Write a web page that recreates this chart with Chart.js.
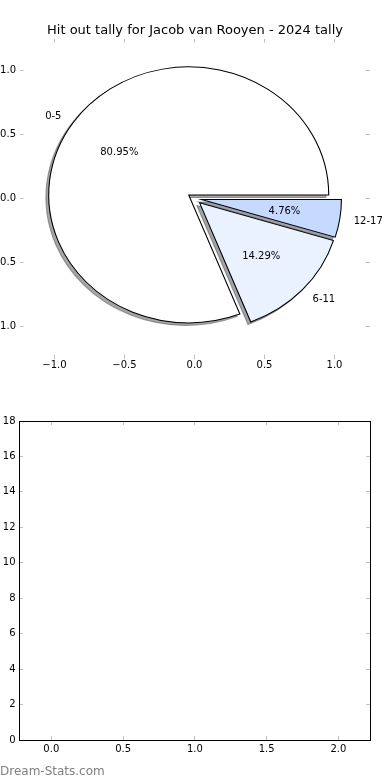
<!DOCTYPE html>
<html>
<head>
<meta charset="utf-8">
<script src="https://cdn.jsdelivr.net/npm/chart.js@4/dist/chart.umd.min.js"></script>
<style>
  html, body { margin: 0; padding: 0; background: #fff; width: 390px; height: 780px; overflow: hidden; }
  canvas { position: absolute; left: 0; }
  #pieCanvas { top: 0; }
  #lowerCanvas { top: 390px; }
  #wm { position: absolute; left: 0; top: 765px; font: 12px/12px "DejaVu Sans", sans-serif; color: #808080; white-space: nowrap; }
</style>
</head>
<body>
<canvas id="pieCanvas" width="390" height="390"></canvas>
<canvas id="lowerCanvas" width="390" height="390"></canvas>
<div id="wm">Dream-Stats.com</div>
<script>
// ---------- data ----------
const chartTitle = 'Hit out tally for Jacob van Rooyen - 2024 tally';
const categories = ['0-5', '6-11', '12-17'];
const hitOuts = [17, 3, 1];
const sliceColors = ['#ffffff', '#eaf1ff', '#c6d9ff'];
const explode = [0.05, 0.05, 0.05];

const pieXTicks = [-1, -0.5, 0, 0.5, 1];
const pieXTickLabels = ['\u22121.0', '\u22120.5', '0.0', '0.5', '1.0'];
const pieYTicks = [-1, -0.5, 0, 0.5, 1];
const pieYTickLabels = ['\u22121.0', '\u22120.5', '0.0', '0.5', '1.0'];

const lowerXTicks = [0, 0.5, 1, 1.5, 2];
const lowerXTickLabels = ['0.0', '0.5', '1.0', '1.5', '2.0'];
const lowerYTicks = [0, 2, 4, 6, 8, 10, 12, 14, 16, 18];
const lowerYTickLabels = ['0', '2', '4', '6', '8', '10', '12', '14', '16', '18'];
const lowerSeries = [];

// ---------- helpers ----------
const FONT = 'DejaVu Sans';
const TICK_GREY = '#bfbfbf';
const SHADE = 0.3;
const SHADOW_OFFSET = [-0.02, -0.02]; // data units (x, y)

function axis(o) {
  return {
    type: 'linear',
    axis: o.axis,
    position: o.position,
    min: o.min,
    max: o.max,
    afterBuildTicks: s => { s.ticks = o.ticks.map(v => ({ value: v })); },
    afterFit: s => { if (s.isHorizontal()) s.height = o.size; else s.width = o.size; },
    ticks: {
      display: !!o.labels,
      autoSkip: false,
      maxRotation: 0,
      minRotation: 0,
      padding: o.pad || 0,
      color: '#000',
      font: { family: FONT, size: 10, lineHeight: 1.2 },
      callback: (v, i) => (o.labels ? o.labels[i] : '')
    },
    grid: {
      drawOnChartArea: false,
      drawTicks: true,
      tickLength: -4,
      tickColor: TICK_GREY,
      tickWidth: 1,
      lineWidth: 1,
      color: TICK_GREY
    },
    border: { display: !!o.border, color: '#000', width: 1 }
  };
}

// matplotlib draws wedges counter-clockwise from +x; Chart.js draws clockwise,
// so reverse the order and start at 0 rad (rotation 90deg).
const rev = a => a.slice().reverse();
const pLabels = rev(categories);
const pValues = rev(hitOuts);
const pColors = rev(sliceColors);
const pExplode = rev(explode);

function shadowColor(hex) {
  const n = parseInt(hex.slice(1), 16);
  const r = Math.round(((n >> 16) & 255) * SHADE);
  const g = Math.round(((n >> 8) & 255) * SHADE);
  const b = Math.round((n & 255) * SHADE);
  return `rgba(${r},${g},${b},0.5)`;
}

const piePlugin = {
  id: 'explodedShadowPie',
  beforeDatasetDraw(chart, args) {
    const ctx = chart.ctx;
    const meta = args.meta;
    const xs = chart.scales.x, ys = chart.scales.y;
    const cx = xs.getPixelForValue(0), cy = ys.getPixelForValue(0);
    const rx = xs.getPixelForValue(1) - cx;
    const ry = cy - ys.getPixelForValue(1);
    const sdx = SHADOW_OFFSET[0] * rx, sdy = -SHADOW_OFFSET[1] * ry;

    const place = (arc, i, dx, dy) => {
      const mid = (arc.startAngle + arc.endAngle) / 2;
      const e = pExplode[i];
      ctx.translate(cx + e * rx * Math.cos(mid) + dx, cy + e * ry * Math.sin(mid) + dy);
      ctx.scale(rx / arc.outerRadius, ry / arc.outerRadius);
      ctx.translate(-arc.x, -arc.y);
    };

    // shadows (all beneath the wedges)
    meta.data.forEach((arc, i) => {
      ctx.save();
      place(arc, i, sdx, sdy);
      const o = arc.options;
      const c = shadowColor(pColors[i]);
      arc.options = Object.assign({}, o, { backgroundColor: c, borderColor: c });
      arc.draw(ctx);
      arc.options = o;
      ctx.restore();
    });
    // wedges
    meta.data.forEach((arc, i) => {
      ctx.save();
      place(arc, i, 0, 0);
      arc.draw(ctx);
      ctx.restore();
    });
    // labels
    const total = pValues.reduce((a, b) => a + b, 0);
    ctx.save();
    ctx.fillStyle = '#000';
    ctx.font = `10px "${FONT}"`;
    ctx.textBaseline = 'middle';
    meta.data.forEach((arc, i) => {
      const mid = (arc.startAngle + arc.endAngle) / 2;
      const c = Math.cos(mid), s = Math.sin(mid);
      const e = pExplode[i];
      const lx = cx + (e + 1.1) * rx * c, ly = cy + (e + 1.1) * ry * s + 1;
      ctx.textAlign = c > 0 ? 'left' : 'right';
      ctx.fillText(pLabels[i], lx, ly);
      const px = cx + (e + 0.6) * rx * c, py = cy + (e + 0.6) * ry * s + 1;
      ctx.textAlign = 'center';
      ctx.fillText((pValues[i] / total * 100).toFixed(2) + '%', px, py);
    });
    ctx.restore();
    return false;
  }
};

// ---------- top: pie ----------
new Chart(document.getElementById('pieCanvas'), {
  type: 'pie',
  data: {
    labels: pLabels,
    datasets: [{
      data: pValues,
      backgroundColor: pColors,
      borderColor: '#000',
      borderWidth: 1,
      borderJoinStyle: 'miter',
      radius: c => { const y = c.chart.scales.y; return y.getPixelForValue(0) - y.getPixelForValue(1); }
    }]
  },
  options: {
    responsive: false,
    animation: false,
    devicePixelRatio: 1,
    events: [],
    rotation: 90,
    layout: { padding: 0 },
    plugins: {
      legend: { display: false },
      tooltip: { enabled: false },
      title: {
        display: true,
        text: chartTitle,
        color: '#000',
        font: { family: FONT, size: 13, weight: 'normal', lineHeight: 1.2 },
        padding: { top: 22.9, bottom: 0 }
      }
    },
    scales: {
      x: axis({ axis: 'x', position: 'bottom', min: -1.25, max: 1.25, ticks: pieXTicks, labels: pieXTickLabels, size: 31.5, pad: 5 }),
      x2: axis({ axis: 'x', position: 'top', min: -1.25, max: 1.25, ticks: pieXTicks, size: 0 }),
      y: axis({ axis: 'y', position: 'left', min: -1.25, max: 1.25, ticks: pieYTicks, labels: pieYTickLabels, size: 19.5, pad: 7.5 }),
      y2: axis({ axis: 'y', position: 'right', min: -1.25, max: 1.25, ticks: pieYTicks, size: 20.5 })
    }
  },
  plugins: [piePlugin]
});

// ---------- bottom: empty axes ----------
new Chart(document.getElementById('lowerCanvas'), {
  type: 'scatter',
  data: { datasets: [{ data: lowerSeries }] },
  options: {
    responsive: false,
    animation: false,
    devicePixelRatio: 1,
    events: [],
    layout: { padding: 0 },
    plugins: { legend: { display: false }, tooltip: { enabled: false }, title: { display: false } },
    scales: {
      x: axis({ axis: 'x', position: 'bottom', min: -0.225, max: 2.22, ticks: lowerXTicks, labels: lowerXTickLabels, size: 40, pad: 7, border: true }),
      x2: axis({ axis: 'x', position: 'top', min: -0.225, max: 2.22, ticks: lowerXTicks, size: 31, border: true }),
      y: axis({ axis: 'y', position: 'left', min: 0, max: 18, ticks: lowerYTicks, labels: lowerYTickLabels, size: 19, pad: 7.5, border: true }),
      y2: axis({ axis: 'y', position: 'right', min: 0, max: 18, ticks: lowerYTicks, size: 20, border: true })
    }
  }
});
</script>
</body>
</html>
